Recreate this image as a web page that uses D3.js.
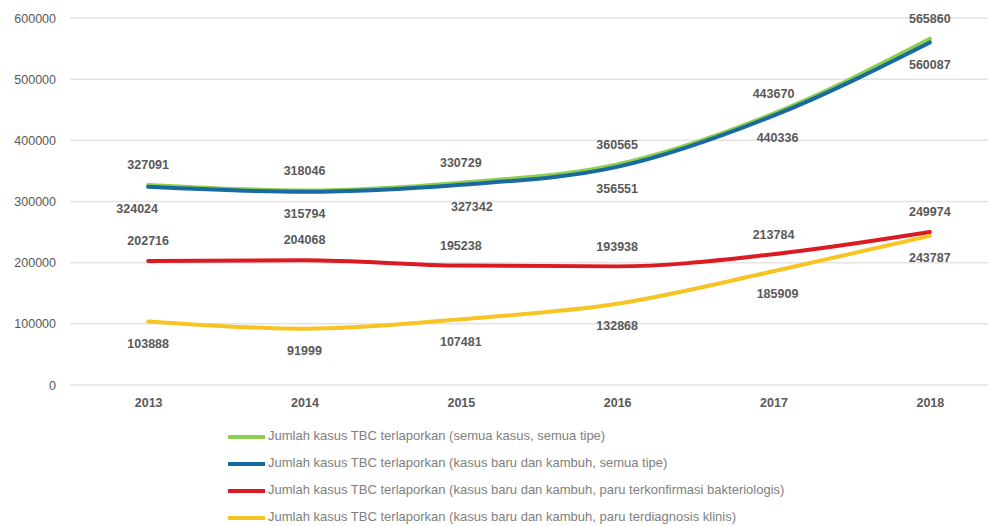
<!DOCTYPE html>
<html>
<head>
<meta charset="utf-8">
<script src="https://cdn.jsdelivr.net/npm/d3@7"></script>
<style>
  html, body { margin: 0; padding: 0; background: #fff; }
  svg { display: block; font-family: "Liberation Sans", Arial, sans-serif; }
</style>
</head>
<body>
<svg id="chart" width="988" height="526"></svg>
<script>
// Tahun pelaporan
const years = ["2013", "2014", "2015", "2016", "2017", "2018"];

// Jumlah kasus TBC terlaporkan per seri
const semuaKasus      = [327091, 318046, 330729, 360565, 443670, 565860];
const baruKambuh      = [324024, 315794, 327342, 356551, 440336, 560087];
const paruBakteriolog = [202716, 204068, 195238, 193938, 213784, 249974];
const paruKlinis      = [103888, 91999, 107481, 132868, 185909, 243787];

const yTicks = [0, 100000, 200000, 300000, 400000, 500000, 600000];

const seriesNames = [
  "Jumlah kasus TBC terlaporkan (semua kasus, semua tipe)",
  "Jumlah kasus TBC terlaporkan (kasus baru dan kambuh, semua tipe)",
  "Jumlah kasus TBC terlaporkan (kasus baru dan kambuh, paru terkonfirmasi bakteriologis)",
  "Jumlah kasus TBC terlaporkan (kasus baru dan kambuh, paru terdiagnosis klinis)"
];

const series = [
  { name: seriesNames[0], values: semuaKasus,      color: "#8fcf4f", labelSide: -1 },
  { name: seriesNames[1], values: baruKambuh,      color: "#1a6aa0", labelSide: 1 },
  { name: seriesNames[2], values: paruBakteriolog, color: "#dc1a22", labelSide: -1 },
  { name: seriesNames[3], values: paruKlinis,      color: "#f7c423", labelSide: 1 }
];

// Small horizontal nudges for labels that sit beside a leader line
const labelNudge = { "1-0": -11, "1-2": 11, "1-4": 4, "3-4": 4 };

const svg = d3.select("#chart");
const margin = { left: 70, right: -20, top: 18, bottom: 141 };
const W = 988, H = 526;

const x = d3.scalePoint()
  .domain(years)
  .range([margin.left, W - margin.right])
  .padding(0.5);

const y = d3.scaleLinear()
  .domain([0, 600000])
  .range([H - margin.bottom, margin.top]);

// Gridlines
svg.append("g")
  .selectAll("line")
  .data(yTicks)
  .join("line")
  .attr("x1", margin.left)
  .attr("x2", W)
  .attr("y1", d => y(d))
  .attr("y2", d => y(d))
  .attr("stroke", "#e3e3e3")
  .attr("stroke-width", 1.5);

// Y axis labels
const yAxis = d3.axisLeft(y).tickValues(yTicks).tickSize(0).tickPadding(0)
  .tickFormat(d3.format("d"));
svg.append("g")
  .attr("transform", `translate(56,0)`)
  .call(yAxis)
  .call(g => g.select(".domain").remove())
  .call(g => g.selectAll("text")
    .attr("fill", "#595959")
    .attr("font-size", 12.5));

// X axis labels
const xAxis = d3.axisBottom(x).tickSize(0).tickPadding(0);
svg.append("g")
  .attr("transform", `translate(0,${y(0) + 13})`)
  .call(xAxis)
  .call(g => g.select(".domain").remove())
  .call(g => g.selectAll("text")
    .attr("fill", "#595959")
    .attr("font-size", 12.5)
    .attr("font-weight", "bold"));

// Lines
const line = d3.line()
  .x((d, i) => x(years[i]))
  .y(d => y(d))
  .curve(d3.curveMonotoneX);

svg.append("g")
  .selectAll("path")
  .data(series)
  .join("path")
  .attr("d", s => line(s.values))
  .attr("fill", "none")
  .attr("stroke", s => s.color)
  .attr("stroke-width", 4)
  .attr("stroke-linejoin", "round")
  .attr("stroke-linecap", "round");

// Data labels
const labels = svg.append("g")
  .attr("font-size", 12.5)
  .attr("font-weight", "bold")
  .attr("fill", "#595959");

series.forEach((s, si) => {
  labels.selectAll(null)
    .data(s.values)
    .join("text")
    .attr("x", (d, i) => x(years[i]) + (labelNudge[`${si}-${i}`] || 0))
    .attr("y", d => y(d) + (s.labelSide < 0 ? -19 : 23))
    .attr("text-anchor", "middle")
    .attr("dominant-baseline", "middle")
    .text(d => d);
});

// Legend
const legend = svg.append("g").attr("transform", "translate(228,437)");
const item = legend.selectAll("g")
  .data(series)
  .join("g")
  .attr("transform", (d, i) => `translate(0,${i * 27})`);
item.append("line")
  .attr("x1", 0).attr("x2", 37)
  .attr("stroke", d => d.color)
  .attr("stroke-width", 4);
item.append("text")
  .attr("x", 40)
  .attr("dominant-baseline", "middle")
  .attr("font-size", 13)
  .attr("fill", "#808080")
  .text(d => d.name);
</script>
</body>
</html>
